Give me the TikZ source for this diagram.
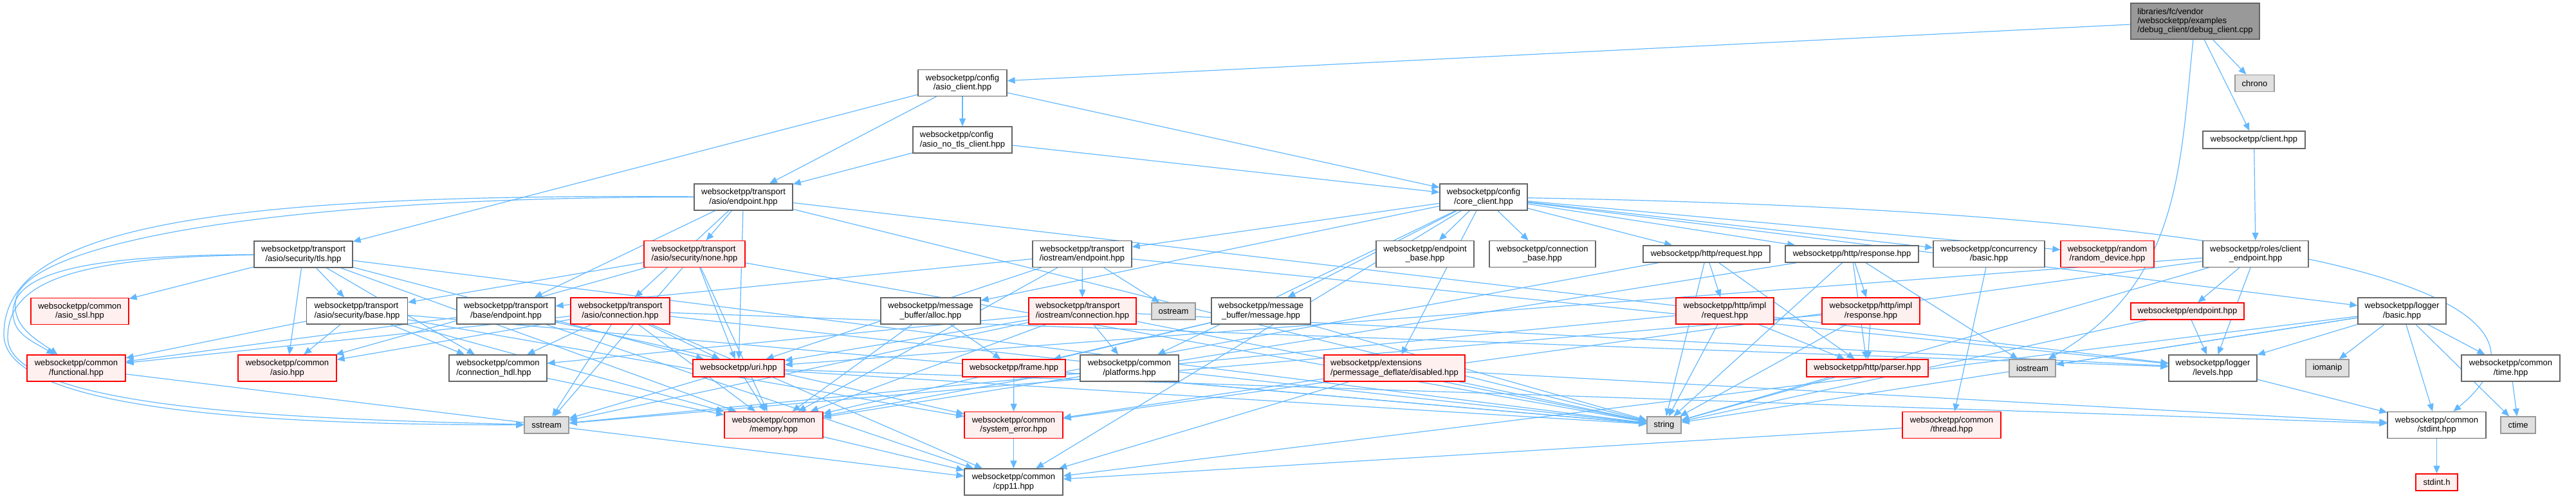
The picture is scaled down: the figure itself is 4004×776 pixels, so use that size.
\documentclass[tikz,border=0pt]{standalone}
\usepackage{fontspec}
\setmainfont{Liberation Sans}
\usetikzlibrary{arrows.meta}
\definecolor{edgeblue}{HTML}{63B8FF}
\definecolor{redfill}{HTML}{FFF0F0}
\definecolor{grayfill}{HTML}{E0E0E0}
\definecolor{mainfill}{HTML}{999999}
\definecolor{boxline}{HTML}{666666}
\definecolor{sysline}{HTML}{999999}
\pgfdeclarelayer{bg}
\pgfsetlayers{bg,main}
\tikzset{
  box/.style={draw=boxline, fill=white, line width=1.3pt, inner sep=0pt,
    font=\fontsize{13}{14.3}\selectfont, align=center, minimum height=41pt},
  boxl/.style={box, align=left},
  one/.style={minimum height=27pt},
  redbox/.style={box, draw=red, fill=redfill},
  redboxl/.style={redbox, align=left},
  sysbox/.style={box, draw=sysline, fill=grayfill, minimum height=26pt},
  mainbox/.style={box, fill=mainfill, align=left, minimum height=56pt},
  dep/.style={draw=edgeblue, line width=1.2pt, -{Triangle[length=12pt,width=10pt]}},
}
\begin{document}
\begin{tikzpicture}[x=1pt,y=-1pt]
\useasboundingbox (0,0) rectangle (4004,776);
% row 0
\node[mainbox, minimum width=200pt] (main) at (3412,33) {libraries/fc/vendor\\/websocketpp/examples\\/debug\_client/debug\_client.cpp};
% row 1
\node[box, minimum width=138pt] (asioclient) at (1496,129) {websocketpp/config\\/asio\_client.hpp};
\node[sysbox, minimum width=61pt] (chrono) at (3504.5,129.5) {chrono};
% row 2
\node[boxl, minimum width=154pt] (notls) at (1496,217.5) {websocketpp/config\\/asio\_no\_tls\_client.hpp};
\node[box, one, minimum width=159pt] (client) at (3503.5,217.5) {websocketpp/client.hpp};
% row 3
\node[box, minimum width=153pt] (asioep) at (1155.5,306.5) {websocketpp/transport\\/asio/endpoint.hpp};
\node[box, minimum width=136pt] (core) at (2306,306.5) {websocketpp/config\\/core\_client.hpp};
% row 4
\node[box, minimum width=153pt] (tls) at (471.5,395.5) {websocketpp/transport\\/asio/security/tls.hpp};
\node[redboxl, minimum width=157pt] (none) at (1079.5,395) {websocketpp/transport\\/asio/security/none.hpp};
\node[box, minimum width=154pt] (ioep) at (1682,395) {websocketpp/transport\\/iostream/endpoint.hpp};
\node[box, minimum width=152pt] (epbase) at (2215,395) {websocketpp/endpoint\\\_base.hpp};
\node[box, minimum width=165pt] (connbase) at (2397.5,395) {websocketpp/connection\\\_base.hpp};
\node[box, one, minimum width=197pt, minimum height=26pt] (httpreq) at (2652.5,395) {websocketpp/http/request.hpp};
\node[box, one, minimum width=207pt, minimum height=26pt] (httpresp) at (2878.5,395) {websocketpp/http/response.hpp};
\node[box, minimum width=173pt] (conc) at (3091.5,395) {websocketpp/concurrency\\/basic.hpp};
\node[redbox, minimum width=145pt] (rand) at (3275.5,395) {websocketpp/random\\/random\_device.hpp};
\node[box, minimum width=164pt] (roles) at (3506,395) {websocketpp/roles/client\\\_endpoint.hpp};
% row 5
\node[redbox, minimum width=152pt] (asiossl) at (124,484) {websocketpp/common\\/asio\_ssl.hpp};
\node[boxl, minimum width=157pt] (secbase) at (555,483.5) {websocketpp/transport\\/asio/security/base.hpp};
\node[box, minimum width=153pt] (baseep) at (786.5,483.5) {websocketpp/transport\\/base/endpoint.hpp};
\node[redbox, minimum width=154pt] (asioconn) at (964,483.5) {websocketpp/transport\\/asio/connection.hpp};
\node[box, minimum width=155pt] (alloc) at (1446.5,483.5) {websocketpp/message\\\_buffer/alloc.hpp};
\node[redboxl, minimum width=167pt] (ioconn) at (1682.5,483.5) {websocketpp/transport\\/iostream/connection.hpp};
\node[sysbox, minimum width=68pt] (ostream) at (1824,484) {ostream};
\node[box, minimum width=154pt] (msg) at (1960,483.5) {websocketpp/message\\\_buffer/message.hpp};
\node[redbox, minimum width=152pt] (implreq) at (2681,483.5) {websocketpp/http/impl\\/request.hpp};
\node[redbox, minimum width=152pt] (implresp) at (2908,483.5) {websocketpp/http/impl\\/response.hpp};
\node[redbox, one, minimum width=176pt, minimum height=26pt] (endpoint) at (3400,484) {websocketpp/endpoint.hpp};
\node[box, minimum width=137pt] (loggerbasic) at (3733.5,483.5) {websocketpp/logger\\/basic.hpp};
% row 6
\node[redbox, minimum width=153pt] (functional) at (118.5,572.5) {websocketpp/common\\/functional.hpp};
\node[redbox, minimum width=153pt] (asio) at (446.5,572.5) {websocketpp/common\\/asio.hpp};
\node[boxl, minimum width=152pt] (connhdl) at (774,572.5) {websocketpp/common\\/connection\_hdl.hpp};
\node[redbox, one, minimum width=142pt] (uri) at (1148,572.5) {websocketpp/uri.hpp};
\node[redbox, one, minimum width=160pt] (frame) at (1576,572.5) {websocketpp/frame.hpp};
\node[box, minimum width=153pt] (platforms) at (1755.5,572.5) {websocketpp/common\\/platforms.hpp};
\node[redboxl, minimum width=219pt] (disabled) at (2167.5,572.5) {websocketpp/extensions\\/permessage\_deflate/disabled.hpp};
\node[redbox, one, minimum width=189pt] (parser) at (2902.5,572.5) {websocketpp/http/parser.hpp};
\node[sysbox, minimum width=72pt, minimum height=27pt] (iostream) at (3159,572.5) {iostream};
\node[box, minimum width=137pt] (levels) at (3439.5,572.5) {websocketpp/logger\\/levels.hpp};
\node[sysbox, minimum width=67pt, minimum height=27pt] (iomanip) at (3617.5,572.5) {iomanip};
\node[box, minimum width=153pt] (time) at (3902.5,572.5) {websocketpp/common\\/time.hpp};
% row 7
\node[sysbox, minimum width=69pt] (sstream) at (849.5,661) {sstream};
\node[redbox, minimum width=153pt] (memory) at (1202.5,661) {websocketpp/common\\/memory.hpp};
\node[redbox, minimum width=153pt] (syserr) at (1575.5,661) {websocketpp/common\\/system\_error.hpp};
\node[sysbox, minimum width=53pt] (string) at (2586.5,661) {string};
\node[redbox, minimum width=153pt] (thread) at (3033.5,661) {websocketpp/common\\/thread.hpp};
\node[box, minimum width=153pt] (stdint) at (3787.5,661) {websocketpp/common\\/stdint.hpp};
\node[sysbox, minimum width=54pt] (ctime) at (3914,661) {ctime};
% row 8
\node[box, minimum width=153pt] (cpp11) at (1575.5,749.5) {websocketpp/common\\/cpp11.hpp};
\node[redbox, minimum width=65pt, minimum height=26pt] (stdinth) at (3787.5,750) {stdint.h};

\begin{pgfonlayer}{bg}
\foreach \s/\t in {
 main/asioclient, main/client, main/chrono,
 client/roles,
 asioclient/notls, asioclient/tls, asioclient/asioep, asioclient/core,
 notls/asioep, notls/core,
 asioep/baseep, asioep/asioconn, asioep/none, asioep/uri, asioep/levels, asioep/string,
 core/platforms, core/cpp11, core/conc, core/ioep, core/httpreq, core/httpresp, core/msg, core/alloc, core/loggerbasic, core/rand, core/epbase, core/connbase, core/disabled,
 tls/secbase, tls/uri, tls/asiossl, tls/asio, tls/connhdl, tls/memory, tls/string,
 none/uri, none/secbase, none/asio, none/memory, none/sstream, none/string,
 secbase/asio, secbase/memory, secbase/functional, secbase/syserr, secbase/connhdl, secbase/string,
 baseep/cpp11, baseep/functional, baseep/syserr,
 asioconn/levels, asioconn/uri, asioconn/asio, asioconn/cpp11, asioconn/memory, asioconn/functional, asioconn/connhdl, asioconn/sstream, asioconn/string,
 ioep/baseep, ioep/ioconn, ioep/uri, ioep/levels, ioep/memory, ioep/ostream,
 ioconn/uri, ioconn/levels, ioconn/connhdl, ioconn/memory, ioconn/platforms, ioconn/string, ioconn/sstream,
 alloc/memory, alloc/frame,
 msg/memory, msg/frame, msg/string,
 frame/syserr, frame/string,
 uri/memory, uri/stdint, uri/sstream, uri/string,
 memory/cpp11, syserr/cpp11, functional/cpp11, connhdl/memory, thread/cpp11, conc/thread,
 httpreq/memory, httpreq/parser, httpreq/implreq, httpreq/string,
 httpresp/memory, httpresp/parser, httpresp/implresp, httpresp/iostream, httpresp/string,
 implreq/parser, implreq/sstream, implreq/string,
 implresp/parser, implresp/sstream, implresp/string,
 parser/string,
 disabled/cpp11, disabled/stdint, disabled/syserr, disabled/string,
 roles/endpoint, roles/uri, roles/levels, roles/syserr, roles/string,
 endpoint/levels, endpoint/string,
 loggerbasic/ctime, loggerbasic/iostream, loggerbasic/iomanip, loggerbasic/string, loggerbasic/cpp11, loggerbasic/stdint, loggerbasic/time, loggerbasic/levels,
 levels/stdint, stdint/stdinth, time/ctime}
 \draw[dep] (\s) -- (\t);
% long curved routes round the left edge
\coordinate (la) at (6,520);
\coordinate (lb) at (24,470);
\coordinate (lc) at (20,485);
\coordinate (ld) at (12,525);
\draw[dep] (asioep) .. controls (300,300) and (6,360) .. (la) .. controls (6,650) and (500,660) .. (sstream);
\draw[dep] (asioep) .. controls (420,306) and (30,380) .. (lb) .. controls (20,510) and (60,530) .. (functional);
\draw[dep] (tls) .. controls (150,397) and (22,420) .. (lc) .. controls (20,520) and (50,530) .. (functional);
\draw[dep] (tls) .. controls (110,400) and (12,440) .. (ld) .. controls (12,640) and (500,652) .. (sstream);
\draw[dep] (main) .. controls (3388,260) and (3390,440) .. (iostream);
\draw[dep] (core) .. controls (3650,330) and (4020,470) .. (stdint);
\end{pgfonlayer}
\end{tikzpicture}
\end{document}
